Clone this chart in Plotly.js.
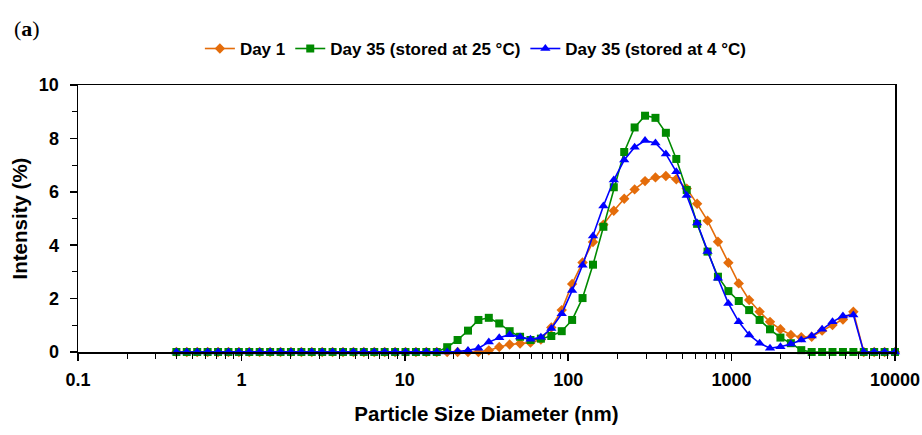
<!DOCTYPE html>
<html>
<head>
<meta charset="utf-8">
<script src="https://cdn.plot.ly/plotly-3.0.1.min.js"></script>
<style>html,body{margin:0;padding:0;background:#fff;}#chart{width:922px;height:435px;}</style>
</head>
<body>
<div id="chart"></div>
<script>
const sizeNm = [0.4, 0.4632, 0.5365, 0.6213, 0.7195, 0.8332, 0.9649, 1.117, 1.294, 1.499,
  1.736, 2.01, 2.328, 2.696, 3.122, 3.615, 4.187, 4.849, 5.615, 6.503,
  7.531, 8.721, 10.1, 11.7, 13.54, 15.69, 18.17, 21.04, 24.36, 28.21,
  32.67, 37.84, 43.82, 50.75, 58.77, 68.06, 78.82, 91.28, 105.7, 122.4,
  141.8, 164.2, 190.1, 220.2, 255.0, 295.3, 342.0, 396.1, 458.7, 531.2,
  615.1, 712.4, 825.0, 955.4, 1106, 1281, 1484, 1718, 1990, 2305,
  2669, 3091, 3580, 4145, 4801, 5560, 6439, 7456, 8635, 10000];

const day1 = [0, 0, 0, 0, 0, 0, 0, 0, 0, 0,
  0, 0, 0, 0, 0, 0, 0, 0, 0, 0,
  0, 0, 0, 0, 0, 0, 0, 0, 0, 0,
  0.06, 0.19, 0.28, 0.32, 0.35, 0.47, 0.92, 1.57, 2.55, 3.35,
  4.12, 4.77, 5.29, 5.74, 6.09, 6.40, 6.54, 6.59, 6.47, 6.12,
  5.55, 4.92, 4.13, 3.34, 2.57, 1.95, 1.51, 1.13, 0.85, 0.64,
  0.55, 0.57, 0.80, 1.01, 1.22, 1.51, 0, 0, 0, 0];

const day35At25 = [0, 0, 0, 0, 0, 0, 0, 0, 0, 0,
  0, 0, 0, 0, 0, 0, 0, 0, 0, 0,
  0, 0, 0, 0, 0, 0, 0.18, 0.45, 0.80, 1.20,
  1.28, 1.07, 0.78, 0.57, 0.45, 0.50, 0.60, 0.78, 1.20, 2.02,
  3.27, 4.69, 6.17, 7.49, 8.41, 8.85, 8.77, 8.21, 7.23, 6.07,
  4.80, 3.76, 2.82, 2.28, 1.91, 1.57, 1.20, 0.85, 0.54, 0.33,
  0.07, 0, 0, 0, 0, 0, 0, 0, 0, 0];

const day35At4 = [0, 0, 0, 0, 0, 0, 0, 0, 0, 0,
  0, 0, 0, 0, 0, 0, 0, 0, 0, 0,
  0, 0, 0, 0, 0, 0, 0, 0.02, 0.06, 0.14,
  0.37, 0.53, 0.65, 0.56, 0.48, 0.55, 0.88, 1.43, 2.30, 3.25,
  4.34, 5.47, 6.44, 7.19, 7.67, 7.92, 7.83, 7.42, 6.75, 5.86,
  4.83, 3.76, 2.76, 1.82, 1.13, 0.64, 0.33, 0.14, 0.20, 0.30,
  0.45, 0.60, 0.85, 1.13, 1.35, 1.39, 0, 0, 0, 0];

const seriesNames = ['Day 1', 'Day 35 (stored at 25 °C)', 'Day 35 (stored at 4 °C)'];
const xTickVals = [0.1, 1, 10, 100, 1000, 10000];
const xTickText = ['0.1', '1', '10', '100', '1000', '10000'];

// minor log ticks (2..9 within each decade)
const xMinorVals = [];
for (let d = -1; d < 4; d++) for (let m = 2; m <= 9; m++) xMinorVals.push(m * Math.pow(10, d));

const colors = ['#E46C0A', '#008A00', '#0000FF'];
const symbols = ['diamond', 'square', 'triangle-up'];
const sizes = [8, 8, 9];
const ys = [day1, day35At25, day35At4];

const traces = ys.map((y, k) => ({
  x: sizeNm, y: y, name: seriesNames[k], type: 'scatter', mode: 'lines+markers',
  line: {color: colors[k], width: 1.6},
  marker: {color: colors[k], symbol: symbols[k], size: sizes[k]},
  cliponaxis: false
}));

const font = 'Liberation Sans, Arial, sans-serif';
const layout = {
  width: 922, height: 435,
  margin: {l: 78, r: 27, t: 85, b: 83},
  paper_bgcolor: '#fff', plot_bgcolor: '#fff',
  showlegend: true,
  legend: {orientation: 'h', x: 0.487, xanchor: 'center', y: 1.135, yanchor: 'middle',
    font: {family: font, size: 17, color: '#000', weight: 'bold'}, tracegroupgap: 0},
  xaxis: {
    type: 'log', range: [-1, 4], tickvals: xTickVals, ticktext: xTickText,
    showgrid: false, zeroline: false, showline: true, linecolor: '#000', linewidth: 1.5, mirror: true,
    ticks: 'outside', ticklen: 7, tickwidth: 1.5, tickcolor: '#000', ticklabelstandoff: 4,
    ticklabeloverflow: 'allow',
    minor: {tickmode: 'array', tickvals: xMinorVals, ticks: 'outside', ticklen: 5, tickwidth: 1, tickcolor: '#000', showgrid: false},
    tickfont: {family: font, size: 18, color: '#000', weight: 'bold'},
    title: {text: 'Particle Size Diameter (nm)', font: {family: font, size: 20.5, color: '#000', weight: 'bold'}, standoff: 17}
  },
  yaxis: {
    range: [0, 10], dtick: 2,
    showgrid: false, zeroline: false, showline: true, linecolor: '#000', linewidth: 1.5, mirror: true,
    ticks: 'outside', ticklen: 7, tickwidth: 1.5, tickcolor: '#000', ticklabelstandoff: 7,
    minor: {ticks: 'outside', ticklen: 5, tickwidth: 1, tickcolor: '#000', dtick: 1, showgrid: false},
    tickfont: {family: font, size: 18, color: '#000', weight: 'bold'},
    title: {text: 'Intensity (%)', font: {family: font, size: 20.5, color: '#000', weight: 'bold'}, standoff: 5}
  },
  annotations: [{
    text: '(<b>a</b>)', xref: 'paper', yref: 'paper', x: -0.081, y: 1.213, xanchor: 'left', yanchor: 'middle',
    showarrow: false, font: {family: 'Liberation Serif, serif', size: 22, color: '#000'}
  }]
};

Plotly.newPlot('chart', traces, layout, {displayModeBar: false, staticPlot: true});
</script>
</body>
</html>
